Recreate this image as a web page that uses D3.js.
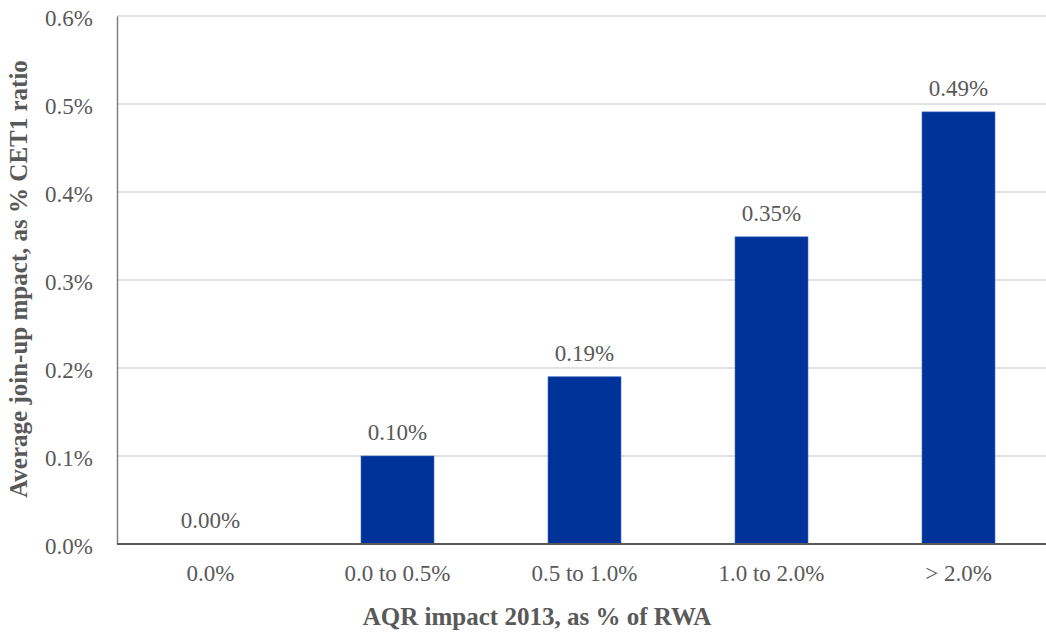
<!DOCTYPE html>
<html><head><meta charset="utf-8">
<script src="https://cdn.jsdelivr.net/npm/d3@7"></script>
<style>body{margin:0;background:#fff;overflow:hidden} text{font-family:'Liberation Serif','Times New Roman',serif}</style>
</head><body>
<svg id="c" width="1046" height="634"></svg>
<script>
const categories = ["0.0%", "0.0 to 0.5%", "0.5 to 1.0%", "1.0 to 2.0%", "> 2.0%"];
const values = [0.0000, 0.0010, 0.0019, 0.00349, 0.00491];
const labels = ["0.00%", "0.10%", "0.19%", "0.35%", "0.49%"];
const yTicks = [0, 0.001, 0.002, 0.003, 0.004, 0.005, 0.006];
const yTitle = "Average join-up mpact, as % CET1 ratio";
const xTitle = "AQR impact 2013, as % of RWA";

const svg = d3.select("#c");
const L = 117, R = 1052, T = 16, B = 544;
const x = d3.scaleBand().domain(categories).range([L, R]).paddingInner(0.61).paddingOuter(0.305);
const y = d3.scaleLinear().domain([0, 0.006]).range([B, T]);
const font = "'Liberation Serif','Times New Roman',serif";
const grey = "#595959";

// gridlines
svg.append("g").selectAll("line").data(yTicks.slice(1)).join("line")
  .attr("x1", L).attr("x2", R).attr("y1", d => y(d)).attr("y2", d => y(d))
  .attr("stroke", "#d9d9d9").attr("stroke-width", 1.3);

// y axis
const ya = svg.append("g").attr("transform", `translate(${L},0)`)
  .call(d3.axisLeft(y).tickValues(yTicks).tickFormat(d3.format(".1%")).tickSize(0).tickPadding(24));
ya.attr("font-family", font).attr("font-size", 23);
ya.select(".domain").attr("stroke", "#7f7f7f").attr("stroke-width", 1.5);
ya.selectAll("text").attr("fill", grey).attr("dy", "0.42em");

// bars
svg.append("g").selectAll("rect").data(values).join("rect")
  .attr("x", (d, i) => x(categories[i])).attr("width", x.bandwidth())
  .attr("y", d => y(d)).attr("height", d => B - y(d))
  .attr("fill", "#003399").attr("stroke", "#2d5bbd").attr("stroke-width", 0.6);

// x axis
const xa = svg.append("g").attr("transform", `translate(0,${B})`)
  .call(d3.axisBottom(x).tickSize(0).tickPadding(21));
xa.attr("font-family", font).attr("font-size", 23);
xa.select(".domain").attr("stroke", "#595959").attr("stroke-width", 2).attr("d", `M${L},0H${R}`);
xa.selectAll("text").attr("fill", grey);

// value labels
svg.append("g").selectAll("text").data(values).join("text")
  .attr("x", (d, i) => x(categories[i]) + x.bandwidth() / 2)
  .attr("y", d => y(d) - 16)
  .attr("text-anchor", "middle").attr("font-family", font).attr("font-size", 23).attr("fill", grey)
  .text((d, i) => labels[i]);

// titles
svg.append("text").attr("x", 537).attr("y", 625).attr("text-anchor", "middle")
  .attr("font-family", font).attr("font-size", 25).attr("font-weight", "bold").attr("fill", grey).text(xTitle);
svg.append("text").attr("transform", "translate(27,279) rotate(-90)").attr("text-anchor", "middle")
  .attr("font-family", font).attr("font-size", 25).attr("font-weight", "bold").attr("fill", grey).text(yTitle);
</script>
</body></html>
